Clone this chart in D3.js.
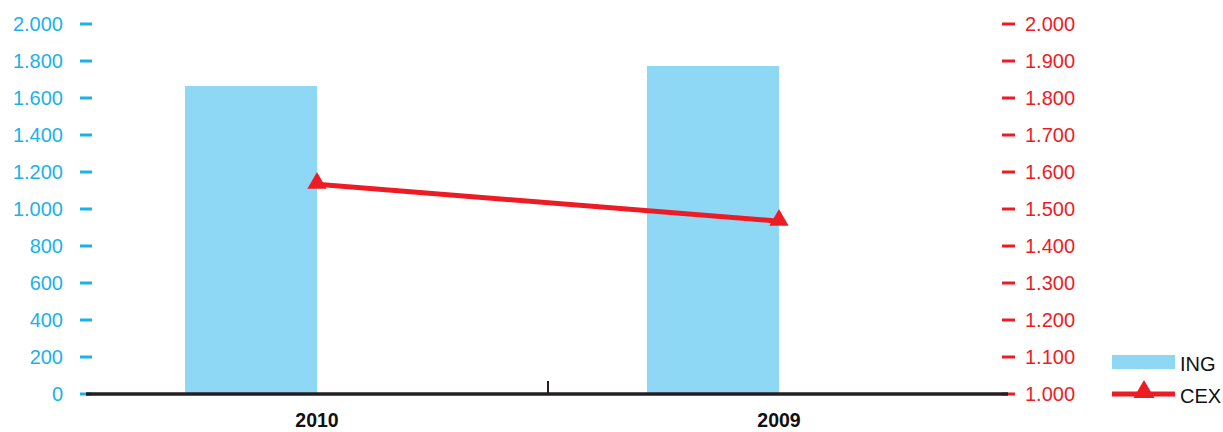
<!DOCTYPE html>
<html><head><meta charset="utf-8">
<script src="https://cdn.jsdelivr.net/npm/d3@7"></script>
<style>body{margin:0;background:#fff;} svg{display:block;font-family:"Liberation Sans",Arial,sans-serif;}</style>
</head><body><svg id="c" width="1223" height="432"></svg>
<script>
const categories = ["2010", "2009"];
const ingValues = [1665, 1773];
const cexValues = [1567, 1467];
const leftTicks = [0, 200, 400, 600, 800, 1000, 1200, 1400, 1600, 1800, 2000];
const rightTicks = [1000, 1100, 1200, 1300, 1400, 1500, 1600, 1700, 1800, 1900, 2000];
const seriesNames = ["ING", "CEX"];

const blue = "#8ed8f6", lblue = "#1bb1ec", red = "#ed1c24";
const svg = d3.select("#c");
const fmt = d => d3.format(",")(d).replace(/,/g, ".");

const x = d3.scaleBand().domain(categories).range([86, 1010]);
const yL = d3.scaleLinear().domain([0, 2000]).range([394, 24]);
const yR = d3.scaleLinear().domain([1000, 2000]).range([394, 24]);
const barW = 132;

// bars
svg.selectAll("rect.bar").data(categories).enter().append("rect")
  .attr("x", d => x(d) + x.bandwidth() / 2 - barW)
  .attr("width", barW)
  .attr("y", (d, i) => yL(ingValues[i]))
  .attr("height", (d, i) => yL(0) - yL(ingValues[i]))
  .attr("fill", blue);

// left axis
const gl = svg.append("g");
leftTicks.forEach(t => {
  gl.append("line").attr("x1", 80).attr("x2", 92).attr("y1", yL(t)).attr("y2", yL(t))
    .attr("stroke", lblue).attr("stroke-width", 3);
  gl.append("text").attr("x", 63).attr("y", yL(t)).attr("dy", "0.35em")
    .attr("text-anchor", "end").attr("font-size", 20).attr("fill", lblue).text(fmt(t));
});
// right axis
const gr = svg.append("g");
rightTicks.forEach(t => {
  gr.append("line").attr("x1", 1002).attr("x2", 1015).attr("y1", yR(t)).attr("y2", yR(t))
    .attr("stroke", red).attr("stroke-width", 3);
  gr.append("text").attr("x", 1025).attr("y", yR(t)).attr("dy", "0.35em")
    .attr("text-anchor", "start").attr("font-size", 20).attr("fill", red).text(fmt(t));
});

// baseline
svg.append("line").attr("x1", 86).attr("x2", 1008).attr("y1", 394).attr("y2", 394)
  .attr("stroke", "#231f20").attr("stroke-width", 3.5);
svg.append("line").attr("x1", x(categories[1])).attr("x2", x(categories[1])).attr("y1", 381).attr("y2", 394)
  .attr("stroke", "#231f20").attr("stroke-width", 2);

// category labels
svg.selectAll("text.cat").data(categories).enter().append("text")
  .attr("x", d => x(d) + x.bandwidth() / 2).attr("y", 427)
  .attr("text-anchor", "middle").attr("font-size", 19.5).attr("font-weight", "bold")
  .attr("fill", "#111").text(d => d);

// line
const line = d3.line().x((d, i) => x(categories[i]) + x.bandwidth() / 2).y(d => yR(d));
svg.append("path").datum(cexValues).attr("d", line).attr("fill", "none")
  .attr("stroke", red).attr("stroke-width", 5);
const tri = d3.symbol().type(d3.symbolTriangle).size(160);
svg.selectAll("path.m").data(cexValues).enter().append("path")
  .attr("transform", (d, i) => `translate(${x(categories[i]) + x.bandwidth() / 2},${yR(d) - 1})`)
  .attr("d", tri).attr("fill", red);

// legend
svg.append("rect").attr("x", 1112).attr("y", 355).attr("width", 63).attr("height", 14).attr("fill", blue);
svg.append("text").attr("x", 1180).attr("y", 364).attr("dy", "0.35em").attr("font-size", 20)
  .attr("fill", "#111").text(seriesNames[0]);
svg.append("line").attr("x1", 1112).attr("x2", 1175).attr("y1", 394).attr("y2", 394)
  .attr("stroke", red).attr("stroke-width", 5);
svg.append("path").attr("transform", "translate(1144,392)")
  .attr("d", d3.symbol().type(d3.symbolTriangle).size(190)).attr("fill", red);
svg.append("text").attr("x", 1180).attr("y", 396).attr("dy", "0.35em").attr("font-size", 20)
  .attr("fill", "#111").text(seriesNames[1]);
</script></body></html>
